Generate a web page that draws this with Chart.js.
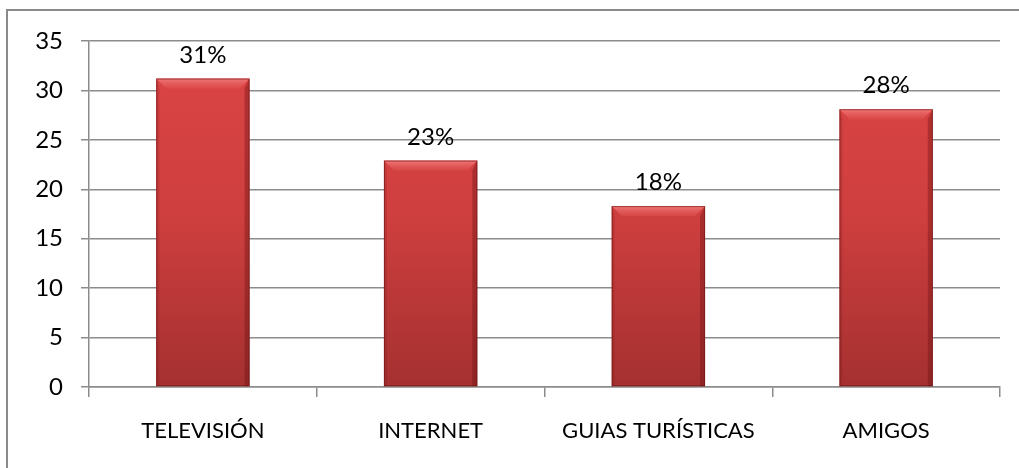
<!DOCTYPE html>
<html>
<head>
<meta charset="utf-8">
<script src="https://cdn.jsdelivr.net/npm/chart.js@4.4.1/dist/chart.umd.min.js"></script>
<style>
    html, body { margin: 0; padding: 0; background: #fff; overflow: hidden; }
    #wrap { position: relative; width: 1019px; height: 468px; }
    #frame { position: absolute; left: 6px; top: 9px; width: 1100px; height: 600px; border: 2px solid #8a8a8a; box-sizing: border-box; }
    canvas { position: absolute; left: 0; top: 0; }
</style>
</head>
<body>
<div id="wrap">
    <div id="frame"></div>
    <canvas id="chart" width="1019" height="468"></canvas>
</div>
<script>
// Medios por los que conocieron el destino
const categories = ["TELEVISIÓN", "INTERNET", "GUIAS TURÍSTICAS", "AMIGOS"];
const values = [31.2, 22.9, 18.3, 28.1];
const valueLabels = ["31%", "23%", "18%", "28%"];
const yTicks = [0, 5, 10, 15, 20, 25, 30, 35];

const FONT = "Lato, 'Open Sans', sans-serif";
const GRID = "#8c8c8c";

// bevel look of the bars (lighter top edge, darker sides)
const bevelPlugin = {
    id: 'bevel',
    afterDatasetsDraw(chart) {
        const ctx = chart.ctx;
        chart.getDatasetMeta(0).data.forEach((bar) => {
            const l = bar.x - bar.width / 2, r = bar.x + bar.width / 2;
            const t = bar.y, b = bar.base;
            const d = 10;
            ctx.save();
            // top bevel
            const tg = ctx.createLinearGradient(0, t, 0, t + d);
            tg.addColorStop(0, "rgba(245,130,130,0.85)");
            tg.addColorStop(1, "rgba(230,90,90,0.3)");
            ctx.fillStyle = tg;
            ctx.beginPath();
            ctx.moveTo(l, t); ctx.lineTo(r, t); ctx.lineTo(r - d, t + d); ctx.lineTo(l + d, t + d); ctx.closePath();
            ctx.fill();
            // right side shade
            ctx.fillStyle = "rgba(100,15,15,0.35)";
            ctx.beginPath();
            ctx.moveTo(r, t); ctx.lineTo(r, b); ctx.lineTo(r - 5, b); ctx.lineTo(r - 5, t + d); ctx.closePath();
            ctx.fill();
            // left side shade
            ctx.fillStyle = "rgba(120,25,25,0.2)";
            ctx.beginPath();
            ctx.moveTo(l, t); ctx.lineTo(l, b); ctx.lineTo(l + 3, b); ctx.lineTo(l + 3, t + d); ctx.closePath();
            ctx.fill();
            // outline
            ctx.strokeStyle = "rgba(110,20,20,0.6)";
            ctx.lineWidth = 1;
            ctx.strokeRect(l + 0.5, t + 0.5, r - l - 1, b - t - 1);
            ctx.restore();
        });
    }
};

// percentage labels above each bar
const valueLabelPlugin = {
    id: 'valueLabels',
    afterDatasetsDraw(chart) {
        const ctx = chart.ctx;
        ctx.save();
        ctx.font = "24px " + FONT;
        ctx.fillStyle = "#000";
        ctx.textAlign = "center";
        ctx.textBaseline = "alphabetic";
        chart.getDatasetMeta(0).data.forEach((bar, i) => {
            ctx.fillText(valueLabels[i], bar.x, bar.y - 16);
        });
        ctx.restore();
    }
};

const ctx = document.getElementById("chart").getContext("2d");
new Chart(ctx, {
    type: 'bar',
    data: {
        labels: categories,
        datasets: [{
            data: values,
            backgroundColor: (c) => {
                const area = c.chart.chartArea;
                if (!area) return "#c83a3a";
                const g = c.chart.ctx.createLinearGradient(0, area.top, 0, area.bottom);
                g.addColorStop(0, "#dc4444");
                g.addColorStop(0.5, "#cf3f3f");
                g.addColorStop(1, "#a53030");
                return g;
            },
            borderWidth: 0,
            barPercentage: 0.82,
            categoryPercentage: 0.5
        }]
    },
    options: {
        responsive: false,
        animation: false,
        layout: { padding: { left: 0, right: 19, top: 41, bottom: 0 } },
        plugins: { legend: { display: false }, tooltip: { enabled: false } },
        scales: {
            x: {
                offset: true,
                grid: { display: true, drawOnChartArea: false, drawTicks: true, tickLength: 10, color: GRID, lineWidth: 1.5, offset: true },
                border: { display: true, color: GRID, width: 1.5 },
                ticks: { color: "#000", font: { family: FONT, size: 22 }, padding: 21 },
                afterFit(s) { s.height = 81; }
            },
            y: {
                min: 0,
                max: 35,
                afterBuildTicks(s) { s.ticks = yTicks.map(v => ({ value: v })); },
                grid: { color: GRID, lineWidth: 1.5, tickLength: 8 },
                border: { display: true, color: GRID, width: 1.5 },
                ticks: { color: "#000", font: { family: FONT, size: 24 }, padding: 18 },
                afterFit(s) { s.width = 89; }
            }
        }
    },
    plugins: [bevelPlugin, valueLabelPlugin]
});
</script>
</body>
</html>
